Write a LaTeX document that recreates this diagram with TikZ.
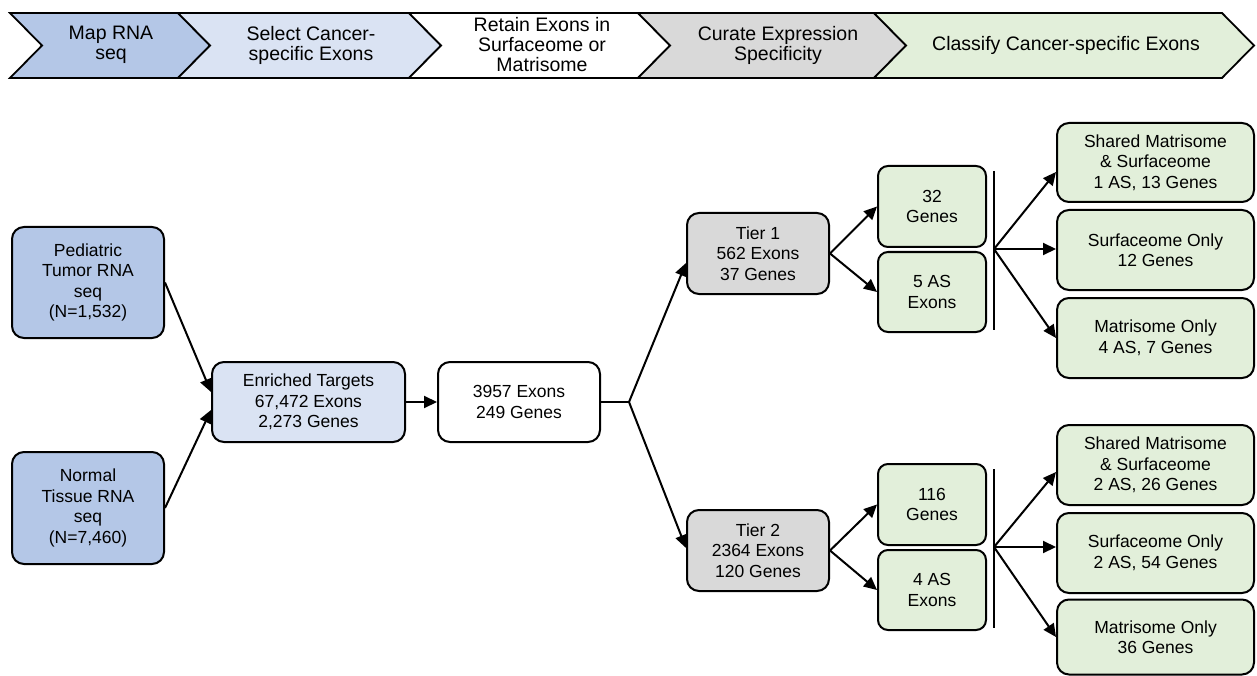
\documentclass[tikz,border=0pt]{standalone}
\usepackage{fontspec}
\setmainfont{Liberation Sans}
\usetikzlibrary{arrows.meta}
\definecolor{cblue}{HTML}{B4C7E7}
\definecolor{clblue}{HTML}{DAE3F3}
\definecolor{cgray}{HTML}{D9D9D9}
\definecolor{cgreen}{HTML}{E2EFDA}
\begin{document}
\begin{tikzpicture}[x=1pt,y=-1pt,
  box/.style={draw=black, line width=2pt, rounded corners=12pt, align=center, inner sep=0pt, font=\fontsize{17.5}{20.5}\selectfont},
  conn/.style={line width=2pt},
  arr/.style={conn, -{Triangle[length=13pt,width=12pt]}},
  chev/.style={draw=black, line width=1.8pt, line join=miter},
  lbl/.style={align=center, inner sep=0pt, font=\fontsize{19.5}{20}\selectfont}]
\useasboundingbox (0,0) rectangle (1257,676);
% banner
\fill[white] (0,0) rectangle (1257,676);
\draw[chev, fill=cblue] (10,13) -- (178,13) -- (210,45.5) -- (178,78) -- (10,78) -- (42,45.5) -- cycle;
\draw[chev, fill=clblue] (178,13) -- (409,13) -- (441,45.5) -- (409,78) -- (178,78) -- (210,45.5) -- cycle;
\draw[chev, fill=white] (409,13) -- (638,13) -- (670,45.5) -- (638,78) -- (409,78) -- (441,45.5) -- cycle;
\draw[chev, fill=cgray] (638,13) -- (874,13) -- (906,45.5) -- (874,78) -- (638,78) -- (670,45.5) -- cycle;
\draw[chev, fill=cgreen] (874,13) -- (1222,13) -- (1254,45.5) -- (1222,78) -- (874,78) -- (906,45.5) -- cycle;
\node[lbl] (h1) at (111,45) {Map RNA\\seq};
\node[lbl] (h2) at (311,45) {Select Cancer-\\specific Exons};
\node[lbl] (h3) at (542,45) {Retain Exons in\\Surfaceome or\\Matrisome};
\node[lbl] (h4) at (778,45) {Curate Expression\\Specificity};
\node[lbl] (h5) at (1066,45) {Classify Cancer-specific Exons};
% boxes
\node[box, fill=cblue, minimum width=152pt, minimum height=111pt] (ped) at (88,282.5) {Pediatric\\Tumor RNA\\seq\\(N=1,532)};
\node[box, fill=cblue, minimum width=152pt, minimum height=112pt] (norm) at (88,508) {Normal\\Tissue RNA\\seq\\(N=7,460)};
\node[box, fill=clblue, minimum width=193pt, minimum height=80pt] (enr) at (308.5,402) {Enriched Targets\\67,472 Exons\\2,273 Genes};
\node[box, fill=white, minimum width=162pt, minimum height=80pt] (ex) at (519,402) {3957 Exons\\249 Genes};
\node[box, fill=cgray, minimum width=142pt, minimum height=81pt] (t1) at (758,253.5) {Tier 1\\562 Exons\\37 Genes};
\node[box, fill=cgray, minimum width=142pt, minimum height=81pt] (t2) at (758,550.5) {Tier 2\\2364 Exons\\120 Genes};
\node[box, fill=cgreen, minimum width=108pt, minimum height=81pt, rounded corners=10pt] (g1) at (932,206.5) {32\\Genes};
\node[box, fill=cgreen, minimum width=108pt, minimum height=80pt, rounded corners=10pt] (a1) at (932,292) {5 AS\\Exons};
\node[box, fill=cgreen, minimum width=108pt, minimum height=81pt, rounded corners=10pt] (g2) at (932,504.5) {116\\Genes};
\node[box, fill=cgreen, minimum width=108pt, minimum height=80pt, rounded corners=10pt] (a2) at (932,590) {4 AS\\Exons};
\node[box, fill=cgreen, minimum width=197pt, minimum height=79pt] (s1) at (1155.5,162.5) {Shared Matrisome\\\& Surfaceome\\1 AS, 13 Genes};
\node[box, fill=cgreen, minimum width=197pt, minimum height=80pt] (o1) at (1155.5,250) {Surfaceome Only\\12 Genes};
\node[box, fill=cgreen, minimum width=197pt, minimum height=80pt] (m1) at (1155.5,338) {Matrisome Only\\4 AS, 7 Genes};
\node[box, fill=cgreen, minimum width=197pt, minimum height=80pt] (s2) at (1155.5,465) {Shared Matrisome\\\& Surfaceome\\2 AS, 26 Genes};
\node[box, fill=cgreen, minimum width=197pt, minimum height=80pt] (o2) at (1155.5,553) {Surfaceome Only\\2 AS, 54 Genes};
\node[box, fill=cgreen, minimum width=197pt, minimum height=75pt] (m2) at (1155.5,637) {Matrisome Only\\36 Genes};
% coordinates
\coordinate (b0) at (629,402);
\coordinate (bar1t) at (994,171);
\coordinate (bar1b) at (994,330);
\coordinate (br1) at (994,249);
\coordinate (bar2t) at (994,469);
\coordinate (bar2b) at (994,628);
\coordinate (br2) at (994,547);
% connectors
\draw[arr] (ped.east) -- ([yshift=10pt]enr.west);
\draw[arr] (norm.east) -- ([yshift=-8pt]enr.west);
\draw[arr] (enr.east) -- (ex.west);
\draw[conn] (ex.east) -- (b0);
\draw[arr] (b0) -- ([yshift=-9.5pt]t1.west);
\draw[arr] (b0) -- ([yshift=2.5pt]t2.west);
\draw[arr] (t1.east) -- (g1.west);
\draw[arr] (t1.east) -- (a1.west);
\draw[arr] (t2.east) -- (g2.west);
\draw[arr] (t2.east) -- (a2.west);
\draw[conn] (bar1t) -- (bar1b);
\draw[conn] (bar2t) -- (bar2b);
\draw[arr] (br1) -- ([yshift=-9.5pt]s1.west);
\draw[arr] (br1) -- (o1.west |- br1);
\draw[arr] (br1) -- (m1.west);
\draw[arr] (br2) -- ([yshift=-7pt]s2.west);
\draw[arr] (br2) -- (o2.west |- br2);
\draw[arr] (br2) -- (m2.west);
\end{tikzpicture}
\end{document}
